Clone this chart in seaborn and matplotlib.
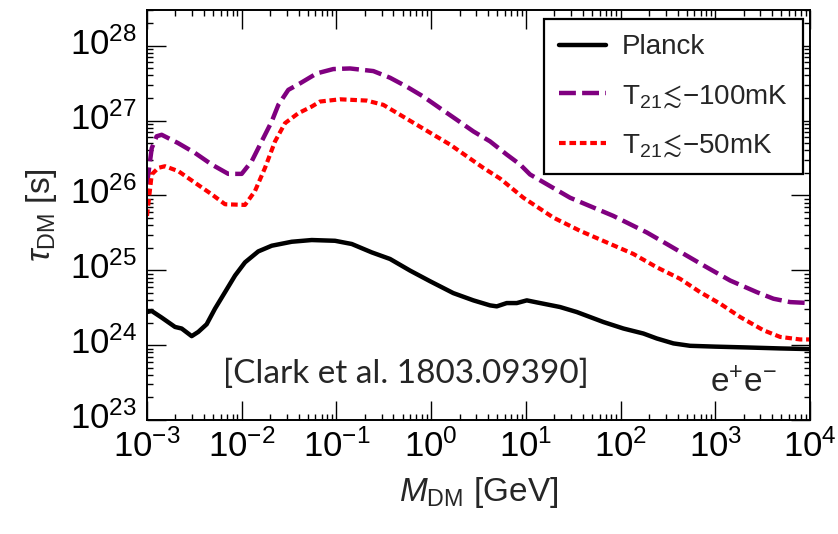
import numpy as np
import pandas as pd
import matplotlib
matplotlib.use("Agg")
import matplotlib.pyplot as plt
import matplotlib.transforms as mtransforms
from matplotlib.ticker import LogLocator, NullFormatter
import seaborn as sns

# values, stored as log10(M/GeV) and log10(tau/s)
mass_planck = [-3.0, -2.95, -2.845, -2.704, -2.634, -2.528, -2.458, -2.37, -2.282, -2.176,
               -2.07, -1.965, -1.825, -1.683, -1.472, -1.261, -1.015, -0.838, -0.627, -0.434,
               -0.223, -0.012, 0.234, 0.446, 0.622, 0.693, 0.798, 0.904, 1.010, 1.115,
               1.361, 1.538, 1.818, 2.030, 2.241, 2.382, 2.558, 2.734, 3.0, 3.333, 3.684, 4.0]
tau_planck = [24.442, 24.456, 24.368, 24.243, 24.222, 24.12, 24.177, 24.279, 24.487, 24.708,
              24.93, 25.106, 25.252, 25.328, 25.381, 25.404, 25.394, 25.351, 25.239, 25.151,
              24.996, 24.854, 24.695, 24.598, 24.531, 24.518, 24.562, 24.562, 24.598, 24.571,
              24.509, 24.442, 24.309, 24.222, 24.155, 24.089, 24.023, 23.991, 23.98, 23.969, 23.956, 23.947]

mass_100 = [-3.0, -2.95, -2.898, -2.845, -2.673, -2.493, -2.317, -2.142, -2.0, -1.894,
            -1.789, -1.683, -1.613, -1.508, -1.384, -1.208, -1.033, -0.856, -0.61, -0.434,
            -0.258, -0.082, 0.094, 0.27, 0.446, 0.622, 0.798, 0.939, 1.044, 1.467,
            1.924, 2.277, 2.488, 2.699, 2.91, 3.157, 3.438, 3.614, 3.79, 4.0]
tau_100 = [26.15, 26.63, 26.79, 26.81, 26.70, 26.567, 26.413, 26.288, 26.288, 26.457,
           26.722, 26.988, 27.21, 27.41, 27.497, 27.63, 27.688, 27.696, 27.661, 27.572,
           27.453, 27.32, 27.165, 27.011, 26.855, 26.722, 26.546, 26.413, 26.28, 25.969,
           25.726, 25.505, 25.351, 25.195, 25.04, 24.863, 24.708, 24.62, 24.575, 24.562]

mass_50 = [-3.0, -2.95, -2.881, -2.81, -2.669, -2.493, -2.317, -2.176, -1.965, -1.86,
           -1.754, -1.648, -1.543, -1.402, -1.261, -1.173, -0.962, -0.68, -0.505, -0.328,
           -0.152, 0.024, 0.2, 0.376, 0.551, 0.728, 0.974, 1.29, 1.572, 1.854,
           2.135, 2.382, 2.628, 2.839, 3.051, 3.262, 3.508, 3.684, 3.895, 4.0]
tau_50 = [25.726, 26.28, 26.368, 26.39, 26.324, 26.169, 26.015, 25.882, 25.873, 26.058,
          26.368, 26.722, 26.965, 27.098, 27.187, 27.254, 27.284, 27.267, 27.21, 27.077,
          26.944, 26.811, 26.679, 26.523, 26.368, 26.225, 25.969, 25.704, 25.527, 25.372,
          25.218, 25.04, 24.886, 24.708, 24.554, 24.376, 24.199, 24.11, 24.076, 24.076]

labels = ["Planck", r"$\mathrm{T}_{21}\!{\lesssim}\!$−100mK", r"$\mathrm{T}_{21}\!{\lesssim}\!$−50mK"]

sns.set_style("ticks")
plt.rcParams["font.family"] = ["Liberation Sans", "DejaVu Sans"]
plt.rcParams["mathtext.fontset"] = "custom"
plt.rcParams["mathtext.rm"] = "Liberation Sans"
plt.rcParams["mathtext.it"] = "Liberation Sans:italic"
plt.rcParams["mathtext.bf"] = "Liberation Sans:bold"
plt.rcParams["mathtext.fallback"] = "stixsans"

fig = plt.figure(figsize=(8.38, 5.34), dpi=100)
ax = fig.add_axes([0.1754, 0.2135, 0.7912, 0.7678])

sns.lineplot(x=10 ** np.array(mass_planck), y=10 ** np.array(tau_planck), ax=ax,
             color="black", lw=3.2, label=labels[0], estimator=None)
sns.lineplot(x=10 ** np.array(mass_100), y=10 ** np.array(tau_100), ax=ax,
             color="purple", lw=3.2, linestyle=(0, (3.8, 1.4)), label=labels[1], estimator=None)
sns.lineplot(x=10 ** np.array(mass_50), y=10 ** np.array(tau_50), ax=ax,
             color="red", lw=3, linestyle=(0, (1.6, 0.9)), label=labels[2], estimator=None)

ax.set_xscale("log")
ax.set_yscale("log")
ax.set_xlim(1e-3, 1e4)
ax.set_ylim(1e23, 3e28)

ax.xaxis.set_major_locator(LogLocator(base=10, numticks=20))
ax.xaxis.set_minor_locator(LogLocator(base=10, subs=np.arange(2, 10), numticks=100))
ax.xaxis.set_minor_formatter(NullFormatter())
ax.yaxis.set_major_locator(LogLocator(base=10, numticks=20))
ax.yaxis.set_minor_locator(LogLocator(base=10, subs=np.arange(2, 10), numticks=100))
ax.yaxis.set_minor_formatter(NullFormatter())

ax.tick_params(which="both", direction="in", top=True, right=True, colors="black")
ax.tick_params(which="major", length=14, width=1.0, pad=7, labelsize=25)
ax.tick_params(which="minor", length=4.5, width=1.0)
for s in ax.spines.values():
    s.set_linewidth(1.4)
    s.set_color("black")

# lift y tick labels so the "10" sits on the tick, as in the original
shift = mtransforms.ScaledTranslation(0, 5 / 100, fig.dpi_scale_trans)
for lab in ax.get_yticklabels():
    lab.set_transform(lab.get_transform() + shift)

ax.set_xlabel(r"$M_{\rm DM}$ [GeV]", fontsize=24, labelpad=8)
ax.set_ylabel(r"$\tau_{\rm DM}$ [s]", fontsize=24, labelpad=8)

ax.text(0.115, 0.09, "[Clark et al. 1803.09390]", transform=ax.transAxes,
        fontsize=24, family="Lato", ha="left", va="baseline")
ax.text(0.95, 0.068, r"$\mathrm{e}^{+}\mathrm{e}^{-}$", transform=ax.transAxes,
        fontsize=24, ha="right", va="baseline")

leg = ax.legend(loc="upper right", bbox_to_anchor=(0.989, 0.978), borderaxespad=0,
                fontsize=20, handlelength=1.7, handletextpad=0.55, labelspacing=0.8,
                borderpad=0.55, fancybox=False, frameon=True)
leg.get_frame().set_edgecolor("black")
leg.get_frame().set_linewidth(1.6)
leg.get_frame().set_alpha(1)

fig.savefig("out.png", dpi=100)
